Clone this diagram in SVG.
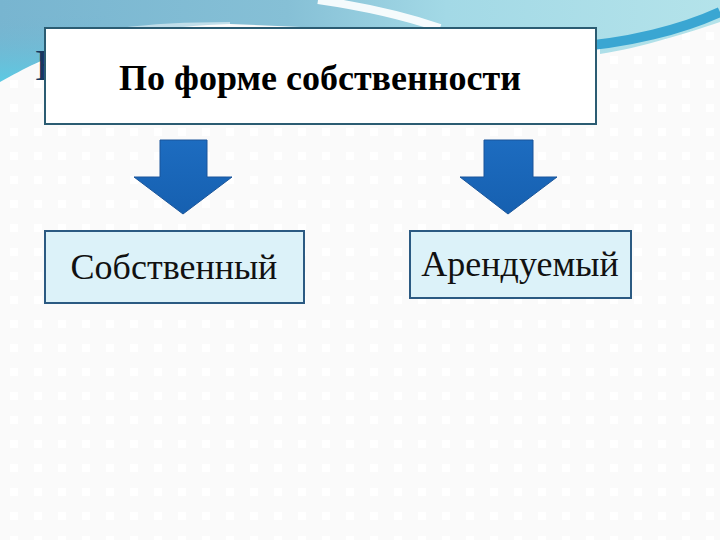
<svg xmlns="http://www.w3.org/2000/svg" width="720" height="540" viewBox="0 0 720 540">
  <defs>
    <pattern id="dots" x="2" y="6" width="24" height="24" patternUnits="userSpaceOnUse">
      <rect width="24" height="24" fill="#fafafa"/>
      <rect x="8" y="2" width="8" height="8" fill="#ffffff"/>
    </pattern>
    <linearGradient id="sky" x1="0" y1="0" x2="1" y2="0">
      <stop offset="0" stop-color="#78b5d0"/>
      <stop offset="0.4" stop-color="#86c0d6"/>
      <stop offset="0.62" stop-color="#a3d9e6"/>
      <stop offset="1" stop-color="#b4e3ea"/>
    </linearGradient>
    <linearGradient id="cyan" x1="0" y1="0" x2="0" y2="1">
      <stop offset="0" stop-color="#74b3cf" stop-opacity="0"/>
      <stop offset="1" stop-color="#4ad8f0"/>
    </linearGradient>
    <linearGradient id="arrowFill" x1="0" y1="0" x2="0" y2="1">
      <stop offset="0" stop-color="#1d6cc0"/>
      <stop offset="1" stop-color="#1660b0"/>
    </linearGradient>
    <style>
      .top { fill: #ffffff; stroke: #2b5c72; stroke-width: 2; }
      .leaf { fill: #dcf2f9; stroke: #2b5a82; stroke-width: 2; }
      .arrow { fill: url(#arrowFill); stroke: #1a559a; stroke-width: 1; }
      .title { font-family: "Liberation Serif", "Times New Roman", serif; font-weight: bold; font-size: 36px; fill: #000; }
      .label { font-family: "Liberation Serif", "Times New Roman", serif; font-size: 36px; fill: #111; }
    </style>
  </defs>

  <!-- background -->
  <rect width="720" height="540" fill="url(#dots)"/>
  <rect width="720" height="130" fill="url(#sky)"/>
  <path d="M0,15 L0,100 L50,60 L110,15 Z" fill="url(#cyan)"/>
  <!-- white body of slide with wave edge -->
  <path d="M0,82 C25,68 45,58 80,45 C120,33 170,26 230,24 L600,40 L600,54 C640,48 690,32 720,22 L720,130 L0,130 Z" fill="url(#dots)"/>
  <!-- blue band on the right -->
  <path d="M560,48 C630,44 685,28 720,12" fill="none" stroke="#3aa6d2" stroke-width="10"/>
  <!-- white swoosh crest -->
  <path d="M318,0 C360,6 405,16 440,28" fill="none" stroke="#ffffff" stroke-width="8" opacity="0.9"/>
  <path d="M120,30 C150,26 180,24 230,24" fill="none" stroke="#ffffff" stroke-width="4" opacity="0.5"/>
  <!-- hidden slide title fragment -->
  <text x="35" y="80" style="font-family:'Liberation Serif','Times New Roman',serif;font-size:44px;fill:#17375e">В</text>

  <g id="node-root">
    <rect class="top" x="45" y="28" width="551" height="96"/>
    <text class="title" x="320" y="90" text-anchor="middle">По форме собственности</text>
  </g>

  <g id="connectors">
    <path class="arrow" d="M160,140 L207,140 L207,177 L232,177 L183,214 L134,177 L160,177 Z"/>
    <path class="arrow" d="M484,140 L533,140 L533,177 L557,177 L508,214 L460,177 L484,177 Z"/>
  </g>

  <g id="node-own">
    <rect class="leaf" x="45" y="231" width="259" height="72"/>
    <text class="label" x="174" y="279" text-anchor="middle">Собственный</text>
  </g>

  <g id="node-rent">
    <rect class="leaf" x="410" y="231" width="221" height="67"/>
    <text class="label" x="520" y="276" text-anchor="middle">Арендуемый</text>
  </g>
</svg>
